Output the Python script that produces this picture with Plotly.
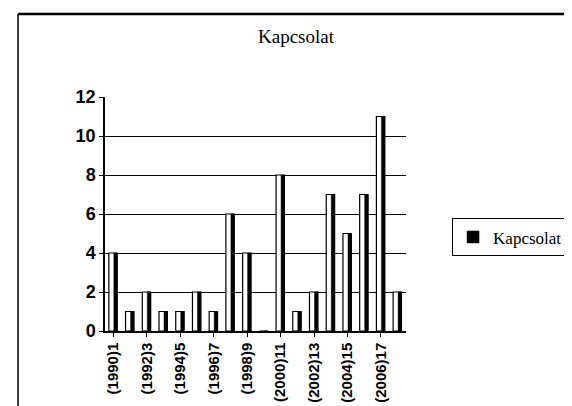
import plotly.graph_objects as go

categories = ["(1990)1", "(1991)2", "(1992)3", "(1993)4", "(1994)5", "(1995)6",
              "(1996)7", "(1997)8", "(1998)9", "(1999)10", "(2000)11", "(2001)12",
              "(2002)13", "(2003)14", "(2004)15", "(2005)16", "(2006)17", "(2007)18"]
values = [4, 1, 2, 1, 1, 2, 1, 6, 4, 0, 8, 1, 2, 7, 5, 7, 11, 2]
tick_labels = categories[::2]
y_ticks = [0, 2, 4, 6, 8, 10, 12]
series_name = "Kapcsolat"

fig = go.Figure()
fig.add_trace(go.Bar(
    x=categories, y=values, name=series_name, showlegend=False,
    width=0.5, offset=-0.27,
    marker=dict(color="white", line=dict(color="black", width=1.2)),
))
fig.add_trace(go.Bar(
    x=categories, y=values, name=series_name, showlegend=True,
    width=0.2, offset=0.03,
    marker=dict(color="black", line=dict(color="black", width=0.5)),
    hoverinfo="skip",
))

fig.update_layout(
    width=572, height=406,
    margin=dict(l=97, r=167, t=89, b=83),
    paper_bgcolor="white", plot_bgcolor="white",
    barmode="overlay",
    title=dict(text="Kapcsolat", x=288 / 572, xanchor="center",
               y=1 - 28 / 406, yanchor="middle",
               font=dict(family="Liberation Serif, Times New Roman, serif", size=19, color="black")),
    showlegend=True,
    legend=dict(x=1.153, xanchor="left", y=0.40, yanchor="middle",
                bordercolor="black", borderwidth=1, bgcolor="white",
                font=dict(family="Liberation Serif, Times New Roman, serif", size=17, color="black"),
                itemwidth=30),
    font=dict(family="Liberation Sans, Arial, sans-serif", color="black"),
)
fig.update_xaxes(
    type="category", tickmode="array", tickvals=tick_labels, ticktext=tick_labels,
    tickangle=-90,
    tickfont=dict(family="Liberation Sans, Arial, sans-serif", size=15, color="black", weight="bold"),
    showline=True, linecolor="black", linewidth=1.5,
    ticks="outside", ticklen=4, tickcolor="black",
    showgrid=False, range=[-0.5, 17.5],
)
fig.update_yaxes(
    range=[0, 12], tickvals=y_ticks,
    tickfont=dict(family="Liberation Sans, Arial, sans-serif", size=18, color="black", weight="bold"),
    showline=True, linecolor="black", linewidth=1.5,
    ticks="outside", ticklen=4, tickcolor="black",
    showgrid=True, gridcolor="black", gridwidth=1.2,
    zeroline=False,
)
# chart frame (left and top edges visible)
fig.add_shape(type="line", xref="paper", yref="paper",
              x0=(8 - 97) / 308, x1=(8 - 97) / 308, y0=(323 - 410) / 234, y1=(323 - 6) / 234,
              line=dict(color="black", width=1.5))
fig.add_shape(type="line", xref="paper", yref="paper",
              x0=(8 - 97) / 308, x1=(580 - 97) / 308, y0=(323 - 6) / 234, y1=(323 - 6) / 234,
              line=dict(color="black", width=2.5))

fig.write_html("out.html")
